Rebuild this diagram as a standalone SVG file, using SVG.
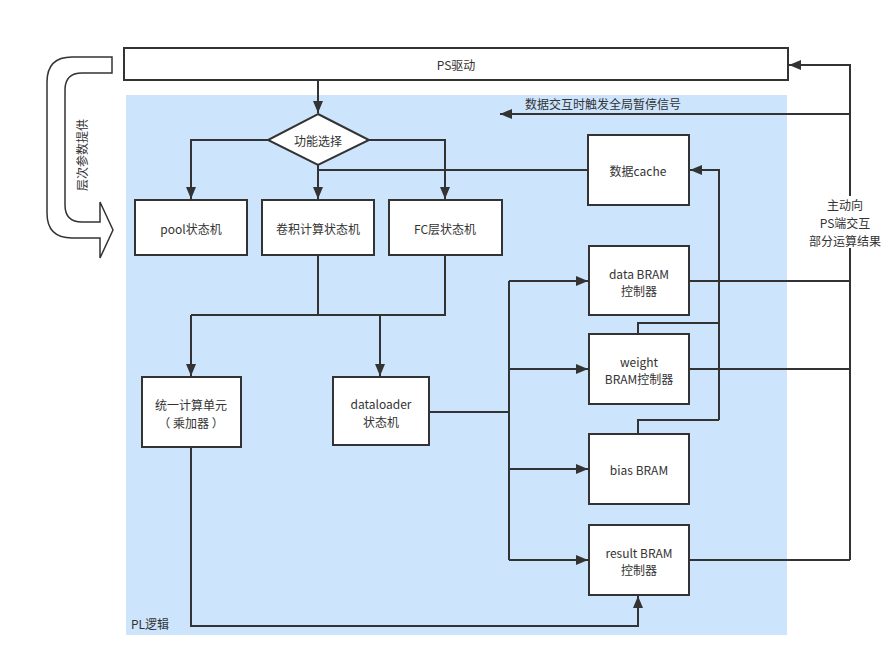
<svg xmlns="http://www.w3.org/2000/svg" width="882" height="669" viewBox="0 0 882 669">
<style>
text{font-family:"Noto Sans CJK SC","Liberation Sans",sans-serif;font-size:12px;fill:#333;text-anchor:middle;dominant-baseline:central}
.box{fill:#fff;stroke:#333;stroke-width:2}
.ln{fill:none;stroke:#333;stroke-width:2}
.ar{fill:none;stroke:#333;stroke-width:2;marker-end:url(#ah)}
</style>
<defs>
<marker id="ah" viewBox="0 0 12 10" refX="12" refY="5" markerWidth="12" markerHeight="10" markerUnits="userSpaceOnUse" orient="auto">
<path d="M0,0 L12,5 L0,10 z" fill="#333"/>
</marker>
</defs>
<rect width="882" height="669" fill="#fff"/>
<rect id="pl" x="126" y="95" width="661" height="540" fill="#cce4fc"/>
<text x="150" y="623">PL逻辑</text>

<g id="levelArrow">
<path d="M112,57 L72,57 Q47,57 47,82 L47,213 Q47,238 72,238 L100,238 L100,258 L113,230 L100,202 L100,222 L82,222 Q65,222 65,205 L65,90 Q65,73 82,73 L112,73 Z" fill="#fff" stroke="#333" stroke-width="1.5"/>
<text transform="translate(81,155) rotate(-90)">层次参数提供</text>
</g>

<g id="connectors">
<path class="ar" d="M318,80 L318,113"/>
<path class="ar" d="M268,140 L191,140 L191,199"/>
<path class="ar" d="M369,140 L445,140 L445,199"/>
<path class="ar" d="M318,165 L318,199"/>
<path class="ln" d="M588,170 L318,170"/>
<path class="ln" d="M318,255 L318,315"/>
<path class="ln" d="M445,255 L445,315 L191,315"/>
<path class="ar" d="M191,315 L191,376"/>
<path class="ar" d="M380,315 L380,376"/>
<path class="ln" d="M429,412 L509,412"/>
<path class="ln" d="M509,281 L509,560"/>
<path class="ar" d="M509,281 L588,281"/>
<path class="ar" d="M509,369 L588,369"/>
<path class="ar" d="M509,469 L588,469"/>
<path class="ar" d="M509,560 L588,560"/>
<path class="ln" d="M638,334 L638,323 L719,323"/>
<path class="ln" d="M638,434 L638,420 L719,420"/>
<path class="ar" d="M719,420 L719,170 L690,170"/>
<path class="ln" d="M689,281 L850,281"/>
<path class="ln" d="M689,369 L850,369"/>
<path class="ln" d="M689,560 L850,560"/>
<path class="ar" d="M850,560 L850,65 L789,65"/>
<path class="ar" d="M850,114 L500,114"/>
<path class="ar" d="M191,447 L191,626 L638,626 L638,596"/>
</g>
<text x="603" y="103">数据交互时触发全局暂停信号</text>
<g id="ps-label">
<rect x="808" y="196" width="74" height="52" fill="#fff"/>
<text x="845" y="204">主动向</text>
<text x="845" y="222">PS端交互</text>
<text x="845" y="240">部分运算结果</text>
</g>

<g id="ps"><rect class="box" x="124" y="48" width="664" height="32"/><text x="456" y="64">PS驱动</text></g>
<g id="select"><path class="box" d="M318,114 L369,140 L318,165 L268,140 Z"/><text x="318" y="140">功能选择</text></g>
<g id="pool"><rect class="box" x="135" y="200" width="112" height="55"/><text x="191" y="228">pool状态机</text></g>
<g id="conv"><rect class="box" x="262" y="200" width="112" height="55"/><text x="318" y="228">卷积计算状态机</text></g>
<g id="fc"><rect class="box" x="389" y="200" width="113" height="55"/><text x="445" y="228">FC层状态机</text></g>
<g id="cache"><rect class="box" x="588" y="135" width="101" height="70"/><text x="638" y="170">数据cache</text></g>
<g id="unit"><rect class="box" x="142" y="377" width="99" height="70"/><text x="191" y="404">统一计算单元</text><text x="191" y="422">（ 乘加器 ）</text></g>
<g id="loader"><rect class="box" x="333" y="377" width="96" height="68"/><text x="381" y="403">dataloader</text><text x="381" y="421">状态机</text></g>
<g id="dataBram"><rect class="box" x="589" y="246" width="100" height="69"/><text x="639" y="273">data BRAM</text><text x="639" y="290">控制器</text></g>
<g id="weightBram"><rect class="box" x="589" y="334" width="100" height="70"/><text x="639" y="361">weight</text><text x="639" y="378">BRAM控制器</text></g>
<g id="biasBram"><rect class="box" x="589" y="434" width="100" height="70"/><text x="639" y="469">bias BRAM</text></g>
<g id="resultBram"><rect class="box" x="589" y="525" width="100" height="70"/><text x="639" y="552">result BRAM</text><text x="639" y="569">控制器</text></g>
</svg>
